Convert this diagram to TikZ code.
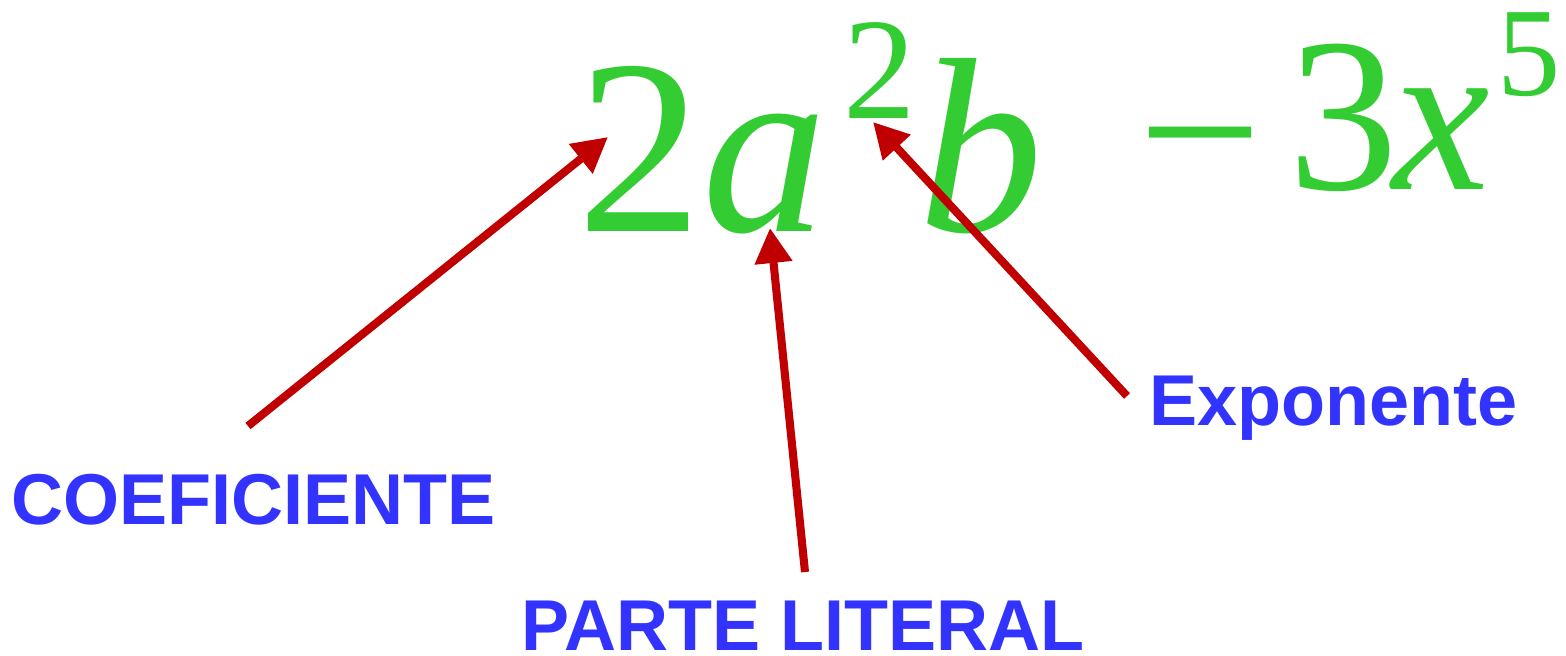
\documentclass[tikz,border=0pt]{standalone}
\usepackage{fontspec}
\setmainfont{Liberation Serif}
\setsansfont{Liberation Sans}
\usepackage{tikz}
\usetikzlibrary{positioning, arrows.meta, calc}

\definecolor{termgreen}{RGB}{51,204,51}
\definecolor{labelblue}{RGB}{51,51,255}
\definecolor{arrowred}{RGB}{192,0,0}

\begin{document}
\begin{tikzpicture}[
    x=0.02cm, y=-0.02cm,
    glyph/.style={inner sep=0pt, anchor=base west, text=termgreen},
    tag/.style={inner sep=0pt, anchor=base west, text=labelblue,
        font=\sffamily\bfseries\fontsize{41}{45}\selectfont},
    pointer/.style={draw=arrowred, line width=4.6pt,
        -{Triangle[length=0.7cm, width=0.72cm]}}
]

% Frame of the picture
\useasboundingbox (0,0) rectangle (1566,656);

% The term 2a^2b - 3x^5
\node[glyph, font=\fontsize{142}{150}\selectfont] (two) at (577,231) {2};
\node[glyph, font=\itshape\fontsize{142}{150}\selectfont] (avar) at (702,231) {a};
\node[glyph, font=\fontsize{82.5}{90}\selectfont] (sqr) at (843,118) {2};
\node[glyph, font=\itshape\fontsize{142}{150}\selectfont] (bvar) at (918,231) {b};
\node[glyph, font=\fontsize{125}{130}\selectfont] (minus) at (1138,205) {−};
\node[glyph, font=\fontsize{125}{130}\selectfont] (three) at (1288,189) {3};
\node[glyph, font=\itshape\fontsize{125}{130}\selectfont] (xvar) at (1392,189) {x};
\node[glyph, font=\fontsize{72}{80}\selectfont] (fifth) at (1497,95) {5};

% Labels
\node[tag] (coef) at (11,524) {COEFICIENTE};
\node[tag] (literal) at (521,650) {PARTE LITERAL};
\node[tag] (expo) at (1149,425) {Exponente};

% Ends of the arrows
\coordinate (coeftail) at (248,426);
\coordinate (coeftip) at (608,137);
\coordinate (littail) at (805,572);
\coordinate (littip) at (770,228);
\coordinate (expotail) at (1127,396);
\coordinate (expotip) at (873,122);

\draw[pointer] (coeftail) -- (coeftip);
\draw[pointer] (littail) -- (littip);
\draw[pointer] (expotail) -- (expotip);

\end{tikzpicture}
\end{document}
